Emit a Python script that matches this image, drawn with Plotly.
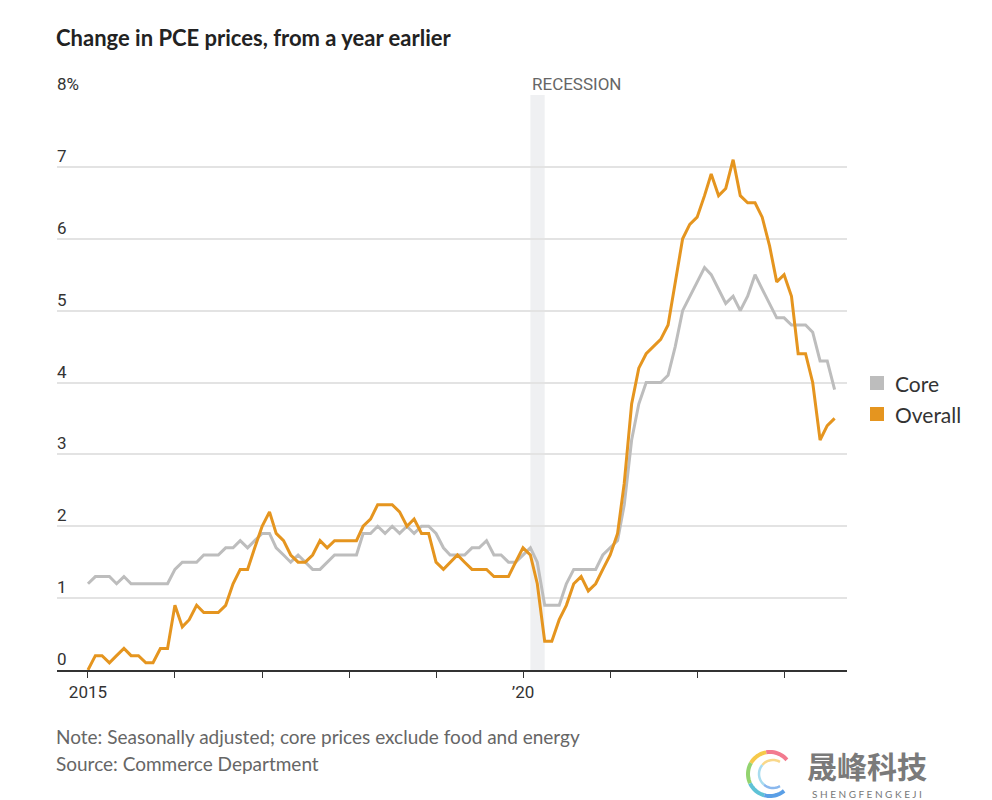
import math
import pandas as pd
import plotly.graph_objects as go

# Monthly year-over-year change, Jan 2015 - Aug 2023
months = pd.date_range("2015-01-01", periods=104, freq="MS")

overall = [
    0.0, 0.2, 0.2, 0.1, 0.2, 0.3, 0.2, 0.2, 0.1, 0.1, 0.3, 0.3,   # 2015
    0.9, 0.6, 0.7, 0.9, 0.8, 0.8, 0.8, 0.9, 1.2, 1.4, 1.4, 1.7,   # 2016
    2.0, 2.2, 1.9, 1.8, 1.6, 1.5, 1.5, 1.6, 1.8, 1.7, 1.8, 1.8,   # 2017
    1.8, 1.8, 2.0, 2.1, 2.3, 2.3, 2.3, 2.2, 2.0, 2.1, 1.9, 1.9,   # 2018
    1.5, 1.4, 1.5, 1.6, 1.5, 1.4, 1.4, 1.4, 1.3, 1.3, 1.3, 1.5,   # 2019
    1.7, 1.6, 1.2, 0.4, 0.4, 0.7, 0.9, 1.2, 1.3, 1.1, 1.2, 1.4,   # 2020
    1.6, 1.9, 2.6, 3.7, 4.2, 4.4, 4.5, 4.6, 4.8, 5.4, 6.0, 6.2,   # 2021
    6.3, 6.6, 6.9, 6.6, 6.7, 7.1, 6.6, 6.5, 6.5, 6.3, 5.9, 5.4,   # 2022
    5.5, 5.2, 4.4, 4.4, 4.0, 3.2, 3.4, 3.5,                       # 2023
]

core = [
    1.2, 1.3, 1.3, 1.3, 1.2, 1.3, 1.2, 1.2, 1.2, 1.2, 1.2, 1.2,   # 2015
    1.4, 1.5, 1.5, 1.5, 1.6, 1.6, 1.6, 1.7, 1.7, 1.8, 1.7, 1.8,   # 2016
    1.9, 1.9, 1.7, 1.6, 1.5, 1.6, 1.5, 1.4, 1.4, 1.5, 1.6, 1.6,   # 2017
    1.6, 1.6, 1.9, 1.9, 2.0, 1.9, 2.0, 1.9, 2.0, 1.9, 2.0, 2.0,   # 2018
    1.9, 1.7, 1.6, 1.6, 1.6, 1.7, 1.7, 1.8, 1.6, 1.6, 1.5, 1.5,   # 2019
    1.6, 1.7, 1.5, 0.9, 0.9, 0.9, 1.2, 1.4, 1.4, 1.4, 1.4, 1.6,   # 2020
    1.7, 1.8, 2.3, 3.2, 3.7, 4.0, 4.0, 4.0, 4.1, 4.5, 5.0, 5.2,   # 2021
    5.4, 5.6, 5.5, 5.3, 5.1, 5.2, 5.0, 5.2, 5.5, 5.3, 5.1, 4.9,   # 2022
    4.9, 4.8, 4.8, 4.8, 4.7, 4.3, 4.3, 3.9,                       # 2023
]

year_ticks = pd.date_range("2015-01-01", periods=9, freq="YS")
year_labels = ["2015", "", "", "", "", "\u201920", "", "", ""]
y_ticks = [0, 1, 2, 3, 4, 5, 6, 7, 8]
y_labels = ["0", "1", "2", "3", "4", "5", "6", "7", "8%"]
recession = ("2020-02-01", "2020-04-01")

CORE_C = "#bdbdbd"
OVER_C = "#e5951f"
TXT = "#333333"
GRAY = "#666666"
NARROW = "Liberation Sans Narrow, Roboto, sans-serif"
MAIN = "Lato, Noto Sans, sans-serif"

# plot area in page pixels (for paper-coordinate decorations)
L, R, T, B = 57, 847, 95, 670


def px(xp):
    return (xp - L) / (R - L)


def py(yp):
    return (B - yp) / (B - T)


fig = go.Figure()
fig.add_trace(go.Scatter(x=months, y=core, mode="lines", name="Core",
                         line=dict(color=CORE_C, width=3), cliponaxis=False,
                         showlegend=False))
fig.add_trace(go.Scatter(x=months, y=overall, mode="lines", name="Overall",
                         line=dict(color=OVER_C, width=3), cliponaxis=False,
                         showlegend=False))

fig.add_vrect(x0=recession[0], x1=recession[1], y0=0, y1=1,
              fillcolor="#eff0f2", line_width=0, layer="below")

annotations = []
for v, t in zip(y_ticks, y_labels):
    annotations.append(dict(xref="paper", yref="y", x=0, y=v, text=t,
                            xanchor="left", yanchor="bottom", showarrow=False,
                            font=dict(family=NARROW, size=17, color=TXT),
                            yshift=-1, xshift=-2))
annotations.append(dict(xref="x", yref="y", x=recession[0], y=8,
                        text="RECESSION", xanchor="left", yanchor="bottom",
                        showarrow=False, xshift=0, yshift=-1,
                        font=dict(family=NARROW, size=17, color=GRAY)))
annotations.append(dict(xref="paper", yref="paper", x=0, y=py(38),
                        text="<b>Change in PCE prices, from a year earlier</b>",
                        xanchor="left", yanchor="middle", showarrow=False,
                        xshift=-3,
                        font=dict(family=MAIN, size=22, color="#222222")))
annotations.append(dict(xref="paper", yref="paper", x=0, y=py(736),
                        text="Note: Seasonally adjusted; core prices exclude food and energy",
                        xanchor="left", yanchor="middle", showarrow=False,
                        xshift=-3,
                        font=dict(family=MAIN, size=19, color=GRAY)))
annotations.append(dict(xref="paper", yref="paper", x=0, y=py(763),
                        text="Source: Commerce Department",
                        xanchor="left", yanchor="middle", showarrow=False,
                        xshift=-3,
                        font=dict(family=MAIN, size=19, color=GRAY)))
# legend
for name, yp in (("Core", 383), ("Overall", 414)):
    annotations.append(dict(xref="paper", yref="paper", x=px(893), y=py(yp),
                            text=name, xanchor="left", yanchor="middle",
                            showarrow=False,
                            font=dict(family=MAIN, size=21, color=TXT)))
# watermark
annotations.append(dict(xref="paper", yref="paper", x=px(867), y=py(765),
                        text="<b>晟峰科技</b>", xanchor="center", yanchor="middle",
                        showarrow=False,
                        font=dict(family="Noto Sans CJK SC", size=30, color="#7a7a7a")))
annotations.append(dict(xref="paper", yref="paper", x=px(867), y=py(794),
                        text="S H E N G F E N G K E J I", xanchor="center",
                        yanchor="middle", showarrow=False,
                        font=dict(family=MAIN, size=10, color="#777777")))

shapes = []
for col, yp in ((CORE_C, 383), (OVER_C, 414)):
    shapes.append(dict(type="rect", xref="paper", yref="paper",
                       x0=px(870), x1=px(884), y0=py(yp + 7), y1=py(yp - 7),
                       fillcolor=col, line_width=0))

# watermark swirl icon (C-shaped coloured arcs)
cx, cy, rad = 770, 774, 22
arcs = [(40, 100, "#f27b8f"), (100, 150, "#f6c94a"), (150, 205, "#93d36f"),
        (205, 255, "#5ec2d6"), (255, 310, "#5a9fe6")]
for a0, a1, col in arcs:
    pts = []
    for k in range(13):
        a = math.radians(a0 + (a1 - a0) * k / 12)
        pts.append((px(cx + rad * math.cos(a)), py(cy - rad * math.sin(a))))
    path = "M " + " L ".join(f"{x:.5f},{y:.5f}" for x, y in pts)
    shapes.append(dict(type="path", xref="paper", yref="paper", path=path,
                       line=dict(color=col, width=4)))
for a0, a1, col in [(60, 140, "#f9d88a"), (140, 230, "#a8dcef"), (230, 300, "#8ab8ee")]:
    pts = []
    for k in range(11):
        a = math.radians(a0 + (a1 - a0) * k / 10)
        pts.append((px(cx + 3 + 14 * math.cos(a)), py(cy - 14 * math.sin(a))))
    path = "M " + " L ".join(f"{x:.5f},{y:.5f}" for x, y in pts)
    shapes.append(dict(type="path", xref="paper", yref="paper", path=path,
                       line=dict(color=col, width=2.5)))

fig.update_layout(
    width=992, height=800,
    margin=dict(l=L, r=992 - R, t=T, b=800 - B),
    paper_bgcolor="white", plot_bgcolor="white",
    annotations=annotations,
    shapes=fig.layout.shapes + tuple(shapes),
    xaxis=dict(type="date", range=["2014-08-24", "2023-09-22"],
               tickvals=year_ticks, ticktext=year_labels,
               ticks="outside", ticklen=6, tickwidth=1.2, tickcolor="#333333",
               showline=True, linecolor="#333333", linewidth=1.5,
               showgrid=False, zeroline=False,
               tickfont=dict(family=NARROW, size=17, color=TXT)),
    yaxis=dict(range=[0, 8], tickvals=y_ticks, showticklabels=False,
               showgrid=True, gridcolor="#e3e3e3", gridwidth=1.5,
               zeroline=False, showline=False, fixedrange=True),
    showlegend=False,
)

fig.write_html("out.html",
               config={"displayModeBar": False},
               post_script="document.body.style.margin='0px';"
                           "document.body.style.overflow='hidden';")
